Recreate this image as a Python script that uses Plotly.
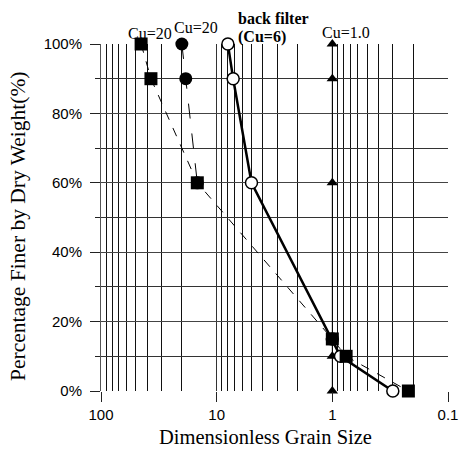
import plotly.graph_objects as go

# Data
sq_x = [45, 37, 14.7, 1.0, 0.76, 0.22]
sq_y = [100, 90, 60, 15, 10, 0]
fc_x = [20, 18.5, 14.7]
fc_y = [100, 90, 60]
oc_x = [8.0, 7.2, 5.0, 1.0, 0.85, 0.30]
oc_y = [100, 90, 60, 15, 10, 0]
tr_x = [1.0, 1.0, 1.0, 1.0, 1.0]
tr_y = [100, 90, 60, 10, 0]
x_tick_vals = [100, 10, 1, 0.1]
x_tick_text = ["100", "10", "1", "0.1"]
y_tick_vals = [0, 20, 40, 60, 80, 100]
y_tick_text = ["0%", "20%", "40%", "60%", "80%", "100%"]

L, R, T, B = 101, 11, 44, 59
W, H = 459, 450
pw, ph = W - L - R, H - T - B

def px(x):
    return (x - L) / pw

def py(y):
    return (H - B - y) / ph

fig = go.Figure()
fig.add_trace(go.Scatter(x=tr_x, y=tr_y, mode="lines+markers",
                         line=dict(color="black", width=1),
                         marker=dict(symbol="triangle-up", size=10, color="black"),
                         cliponaxis=False, showlegend=False))
fig.add_trace(go.Scatter(x=oc_x, y=oc_y, mode="lines+markers",
                         line=dict(color="black", width=2.5),
                         marker=dict(symbol="circle", size=12, color="white",
                                     line=dict(color="black", width=1.5)),
                         cliponaxis=False, showlegend=False))
fig.add_trace(go.Scatter(x=fc_x, y=fc_y, mode="lines+markers",
                         line=dict(color="black", width=1, dash="longdash"),
                         marker=dict(symbol="circle", size=13, color="black"),
                         cliponaxis=False, showlegend=False))
fig.add_trace(go.Scatter(x=sq_x, y=sq_y, mode="lines+markers",
                         line=dict(color="black", width=1, dash="dash"),
                         marker=dict(symbol="square", size=13, color="black"),
                         cliponaxis=False, showlegend=False))

serif = "Liberation Serif"
ann = [
    ("Cu=20", 150, 33, False, 16, "center"),
    ("Cu=20", 196, 27, False, 16, "center"),
    ("back filter", 236, 18, True, 16, "left"),
    ("(Cu=6)", 236, 37, True, 16, "left"),
    ("Cu=1.0", 346, 32, False, 16, "center"),
]
for t, x, y, bold, sz, al in ann:
    fig.add_annotation(x=px(x), y=py(y), xref="paper", yref="paper",
                       text=f"<b>{t}</b>" if bold else t, showarrow=False,
                       xanchor=al, yanchor="middle",
                       font=dict(family=serif, size=sz, color="black"))

# axis titles
fig.add_annotation(x=px(265), y=py(437), xref="paper", yref="paper",
                   text="Dimensionless Grain Size", showarrow=False,
                   xanchor="center", yanchor="middle",
                   font=dict(family=serif, size=20.5, color="black"))
fig.add_annotation(x=px(18), y=py(226), xref="paper", yref="paper",
                   text="Percentage Finer by Dry Weight(%)", showarrow=False,
                   xanchor="center", yanchor="middle", textangle=-90,
                   font=dict(family=serif, size=21.5, color="black"))

fig.update_layout(
    width=W, height=H, margin=dict(l=L, r=R, t=T, b=B, autoexpand=False),
    plot_bgcolor="white", paper_bgcolor="white",
    xaxis=dict(type="log", range=[2, -1], tickvals=x_tick_vals, ticktext=x_tick_text,
               automargin=False,
               showgrid=True, gridcolor="#333", gridwidth=1,
               ticks="outside", ticklen=10, tickcolor="#222",
               minor=dict(dtick="D1", showgrid=True, gridcolor="#111", gridwidth=1, ticks=""),
               tickfont=dict(family="Liberation Sans", size=15, color="black"),
               zeroline=False, showline=False),
    yaxis=dict(range=[0, 100], tickvals=y_tick_vals, ticktext=y_tick_text,
               automargin=False,
               showgrid=True, gridcolor="#444", gridwidth=1,
               ticks="outside", ticklen=10, tickcolor="#222", ticklabelstandoff=5,
               minor=dict(dtick=10, showgrid=True, gridcolor="#333", ticks="outside", ticklen=5,
                          tickcolor="#222"),
               tickfont=dict(family="Liberation Sans", size=15, color="black"),
               zeroline=False, showline=True, linecolor="#555"),
)
fig.write_html("out.html")
